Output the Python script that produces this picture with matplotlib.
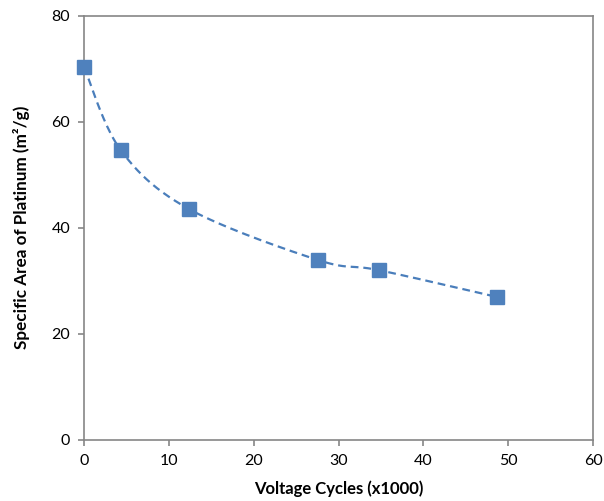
import matplotlib.pyplot as plt
import numpy as np

plt.rcParams['font.family'] = ['Lato', 'DejaVu Sans']

cycles = [0.0, 4.33, 12.42, 27.63, 34.8, 48.7]
area = [70.35, 54.65, 43.5, 33.9, 32.0, 26.95]


def smooth_curve(xs, ys, n=40):
    # Catmull-Rom style bezier, like Excel's smoothed line
    p = np.column_stack([xs, ys])
    pts = np.vstack([p[0], p, p[-1]])
    out = []
    t = np.linspace(0, 1, n)[:, None]
    for i in range(1, len(pts) - 2):
        p0, p1, p2, p3 = pts[i - 1], pts[i], pts[i + 1], pts[i + 2]
        c1 = p1 + (p2 - p0) / 6
        c2 = p2 - (p3 - p1) / 6
        seg = ((1 - t) ** 3) * p1 + 3 * ((1 - t) ** 2) * t * c1 + 3 * (1 - t) * t ** 2 * c2 + t ** 3 * p2
        out.append(seg)
    out = np.vstack(out)
    return out[:, 0], out[:, 1]


fig = plt.figure(figsize=(6.04, 5.01), dpi=100)
ax = fig.add_axes([0.139, 0.1218, 0.843, 0.847])

sx, sy = smooth_curve(cycles, area)
ax.plot(sx, sy, color='#4A7EBB', linewidth=1.6, dashes=(3.5, 2.2))
ax.plot(cycles, area, linestyle='none', marker='s', markersize=9.5,
        color='#4F81BD', markeredgecolor='#4F81BD', clip_on=False, zorder=5)

ax.set_xlim(0, 60)
ax.set_ylim(0, 80)
ax.set_xticks([0, 10, 20, 30, 40, 50, 60])
ax.set_yticks([0, 20, 40, 60, 80])
ax.set_xlabel('Voltage Cycles (x1000)', fontsize=12, fontweight='bold', labelpad=9)
ax.set_ylabel('Specific Area of Platinum (m²/g)', fontsize=12.3, fontweight='bold', labelpad=15)

for s in ax.spines.values():
    s.set_color('#868686')
    s.set_linewidth(1.2)
ax.tick_params(direction='out', length=4, width=1.2, color='#868686',
               labelsize=11.5, labelcolor='#000000', pad=6)

fig.savefig('out.png', dpi=100)
